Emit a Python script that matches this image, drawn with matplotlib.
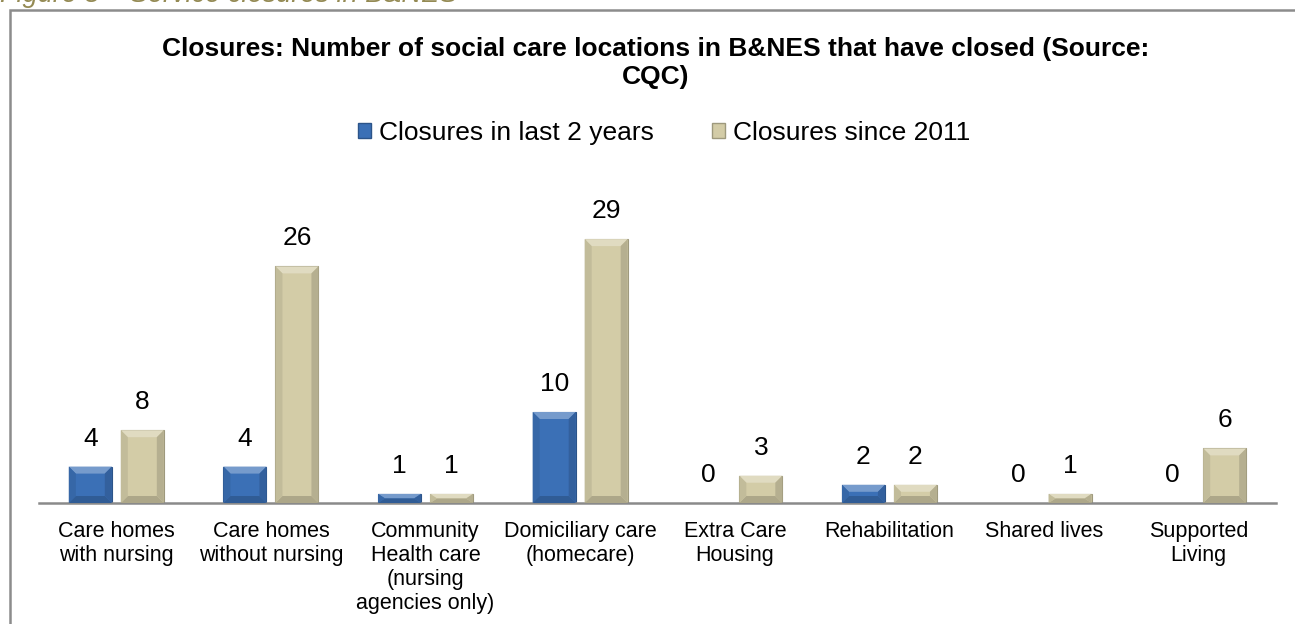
import matplotlib.pyplot as plt
import numpy as np
from matplotlib.patches import Polygon, Rectangle

plt.rcParams["font.family"] = ["Liberation Sans", "DejaVu Sans"]

categories = [
    "Care homes\nwith nursing",
    "Care homes\nwithout nursing",
    "Community\nHealth care\n(nursing\nagencies only)",
    "Domiciliary care\n(homecare)",
    "Extra Care\nHousing",
    "Rehabilitation",
    "Shared lives",
    "Supported\nLiving",
]
last_2_years = [4, 4, 1, 10, 0, 2, 0, 0]
since_2011 = [8, 26, 1, 29, 3, 2, 1, 6]
series_names = ["Closures in last 2 years", "Closures since 2011"]

blue = "#3b70b6"
beige = "#d3cca7"

W, H = 1295, 624


def shade(color, f):
    c = np.array(plt.matplotlib.colors.to_rgb(color))
    if f > 1:
        return tuple(c + (1 - c) * (f - 1))
    return tuple(c * f)


def bevel_bar(ax, x0, w, h, color, bx, by):
    if h <= 0:
        return
    ax.add_patch(Rectangle((x0, 0), w, h, facecolor=color, edgecolor=shade(color, 0.75), lw=0.8, zorder=2))
    by = min(by, h / 2)
    bx = min(bx, w / 2)
    x1 = x0 + w
    # top highlight
    ax.add_patch(Polygon([(x0, h), (x1, h), (x1 - bx, h - by), (x0 + bx, h - by)],
                         closed=True, facecolor=shade(color, 1.3), lw=0, zorder=3))
    # bottom shadow
    ax.add_patch(Polygon([(x0, 0), (x1, 0), (x1 - bx, by), (x0 + bx, by)],
                         closed=True, facecolor=shade(color, 0.82), lw=0, zorder=3))
    # sides
    ax.add_patch(Polygon([(x0, 0), (x0 + bx, by), (x0 + bx, h - by), (x0, h)],
                         closed=True, facecolor=shade(color, 0.92), lw=0, zorder=3))
    ax.add_patch(Polygon([(x1, 0), (x1 - bx, by), (x1 - bx, h - by), (x1, h)],
                         closed=True, facecolor=shade(color, 0.86), lw=0, zorder=3))


fig = plt.figure(figsize=(W / 100, H / 100), dpi=100)

# outer frame and (clipped) caption
fig.patches.append(Rectangle((10 / W, -0.01), 1.1, 1 - 10 / H + 0.01, transform=fig.transFigure,
                             fill=False, edgecolor="#8c8c8c", lw=1.8))
fig.text(0.0, 1 - 2 / H, "Figure 8 \u2013 Service closures in B&NES", fontsize=19.5, style="italic",
         color="#948a54", ha="left", va="baseline")

base_y = 503
px_unit = 9.1
ymax = 34
ax = fig.add_axes([39 / W, 1 - base_y / H, 1237 / W, ymax * px_unit / H])
n = len(categories)
x = np.arange(n)
ax.set_xlim(-0.5, n - 0.5)
ax.set_ylim(0, ymax)

px_x = 1237 / n
width = 43 / px_x
offset = 26 / px_x
bx = 7 / px_x
by = 7 / px_unit

for vals, color, sign in [(last_2_years, blue, -1), (since_2011, beige, 1)]:
    for xi, v in zip(x, vals):
        xc = xi + sign * offset
        bevel_bar(ax, xc - width / 2, width, v, color, bx, by)
        ax.text(xc, v + 16 / px_unit, str(v), ha="center", va="bottom", fontsize=19)

for s in ["top", "left", "right"]:
    ax.spines[s].set_visible(False)
ax.spines["bottom"].set_color("#8a8a8a")
ax.spines["bottom"].set_linewidth(1.8)
ax.set_yticks([])
ax.set_xticks(x)
ax.set_xticklabels(categories, fontsize=15.5, linespacing=1.19, va="top")
ax.tick_params(axis="x", length=0, pad=13)

fig.text(656 / W, 1 - 63 / H,
         "Closures: Number of social care locations in B&NES that have closed (Source:\nCQC)",
         ha="center", va="center", fontsize=19, fontweight="bold", linespacing=1.25)

# legend
handles = [Rectangle((0, 0), 1, 1, facecolor=blue, edgecolor=shade(blue, 0.75)),
           Rectangle((0, 0), 1, 1, facecolor=beige, edgecolor=shade(beige, 0.75))]
fig.legend(handles, series_names, loc="center", bbox_to_anchor=(664 / W, 1 - 133 / H), ncol=2,
           frameon=False, fontsize=19, handlelength=0.5, handleheight=0.5, handletextpad=0.3,
           columnspacing=2.2, borderpad=0)

fig.savefig("out.png", dpi=100)
